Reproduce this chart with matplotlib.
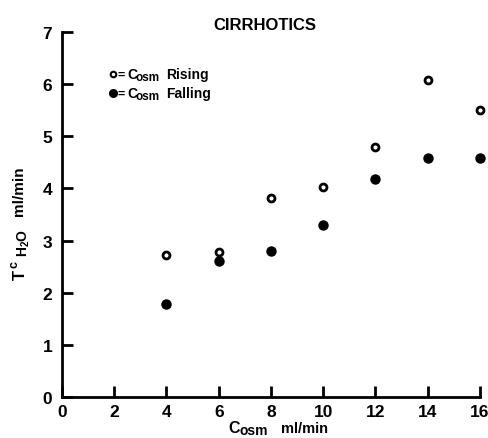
import matplotlib
matplotlib.use("Agg")
import matplotlib.pyplot as plt

plt.rcParams["font.family"] = "Liberation Sans"
plt.rcParams["font.weight"] = "bold"
plt.rcParams["mathtext.fontset"] = "custom"
plt.rcParams["mathtext.rm"] = "Liberation Sans:bold"
plt.rcParams["mathtext.it"] = "Liberation Sans:bold"
plt.rcParams["mathtext.bf"] = "Liberation Sans:bold"

# data
c_osm = [4, 6, 8, 10, 12, 14, 16]
tc_rising = [2.72, 2.78, 3.82, 4.02, 4.80, 6.08, 5.50]
tc_falling = [1.79, 2.60, 2.80, 3.29, 4.18, 4.59, 4.59]
x_ticks = [0, 2, 4, 6, 8, 10, 12, 14, 16]
y_ticks = [0, 1, 2, 3, 4, 5, 6, 7]

W, H = 489, 439
fig = plt.figure(figsize=(W / 100, H / 100), dpi=100)
ax = fig.add_axes([62 / W, 1 - 398 / H, 418 / W, 365 / H])

def ptxt(px, py, s, **kw):
    # place text by pixel position (from top-left)
    fig.text(px / W, 1 - py / H, s, **kw)

ax.plot(c_osm, tc_rising, "o", ms=5, mfc="white", mec="black", mew=2, clip_on=False)
ax.plot(c_osm, tc_falling, "o", ms=6.5, mfc="black", mec="black", clip_on=False)

ax.set_xlim(0, 16)
ax.set_ylim(0, 7)
ax.set_xticks(x_ticks)
ax.set_yticks(y_ticks)
for s in ["top", "right"]:
    ax.spines[s].set_visible(False)
for s in ["left", "bottom"]:
    ax.spines[s].set_linewidth(2)
ax.tick_params(direction="in", length=8, width=2, labelsize=12.5)
ax.tick_params(axis="y", pad=7)
ax.tick_params(axis="x", pad=5)

# title
ptxt(265, 30, "CIRRHOTICS", fontsize=12, ha="center", va="baseline")

# x label: C_osm ml/min
ptxt(228, 433, "C", fontsize=11.5, ha="left", va="baseline")
ptxt(240, 435, "osm", fontsize=10, ha="left", va="baseline")
ptxt(281, 433, "ml/min", fontsize=10.5, ha="left", va="baseline")

# y label: T^c_H2O ml/min (rotated)
ptxt(20, 280, "T", fontsize=12, rotation=90, ha="center", va="bottom")
ptxt(15, 268, "c", fontsize=9, rotation=90, ha="center", va="bottom")
ptxt(24, 257, "H$_2$O", fontsize=10, rotation=90, ha="center", va="bottom")
ptxt(19, 216, "ml/min", fontsize=11, rotation=90, ha="center", va="bottom")

# legend drawn by hand
ax.plot([(113 - 62) / 418], [(398 - 75) / 365], "o", ms=4, mfc="white", mec="black", mew=1.5,
        transform=ax.transAxes)
ax.plot([(113 - 62) / 418], [(398 - 94) / 365], "o", ms=5.5, mfc="black", mec="black",
        transform=ax.transAxes)
for py, word in [(79, "Rising"), (98, "Falling")]:
    ptxt(118, py, "=", fontsize=9, ha="left", va="baseline")
    ptxt(127, py, "C", fontsize=10, ha="left", va="baseline")
    ptxt(136, py + 2, "osm", fontsize=8.5, ha="left", va="baseline")
    ptxt(166, py, word, fontsize=10, ha="left", va="baseline")

fig.savefig("out.png", dpi=100, facecolor="white")
